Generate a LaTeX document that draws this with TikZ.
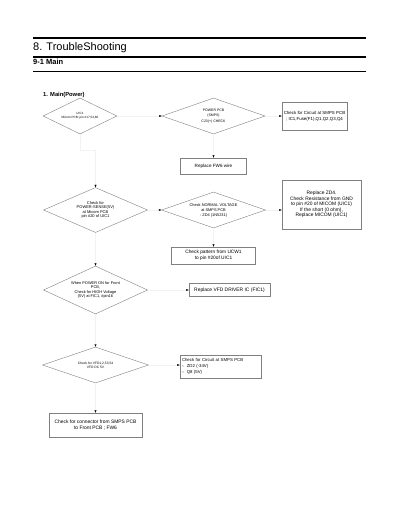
\documentclass[tikz,border=0pt]{standalone}
\usepackage{fontspec}
\setmainfont{Liberation Sans}
\usetikzlibrary{shapes,arrows.meta,calc}
\newcommand{\fsz}[2]{\fontsize{#1}{#2}\selectfont}
\tikzstyle{line} = [draw=black!5, line width=0.2pt, -{Latex[length=2.4pt,width=2pt,color=black]}]
\tikzstyle{block} = [draw=black!50, rectangle, align=center, line width=0.5pt, inner sep=1pt]
\tikzstyle{decision} = [draw=black!50, diamond, align=center, line width=0.4pt, inner sep=0pt]

\begin{document}
\begin{tikzpicture}[x=1pt, y=-1pt, node distance=40pt]
        \useasboundingbox (0,0) rectangle (400,518);
        % page header
        \draw[line width=2.4pt] (33,38) -- (366,38);
        \node[anchor=base west, inner sep=0pt, font=\fsz{11}{13}] (title) at (33,50.5) {8. TroubleShooting};
        \draw[line width=1.2pt] (33,57) -- (366,57);
        \node[anchor=base west, inner sep=0pt, font=\fsz{7.5}{9}\bfseries] (sec) at (33,65) {9-1 Main};
        \draw[line width=0.6pt] (33,71) -- (366,71);
        \node[anchor=base west, inner sep=0pt, font=\fsz{5.8}{7}\bfseries] (sub) at (43,97) {1. Main(Power)};
        % flow chart
        \node[decision, minimum width=74pt, minimum height=36pt, aspect=2.05, font=\fsz{3.1}{4.4}] (uic) at (80,116) {UIC1\\Micom PCB; pin \#17,54,80};
        \node[decision, right of=uic, node distance=133.5pt, minimum width=103pt, minimum height=36pt, aspect=2.86, font=\fsz{3.5}{5.2}] (smps) {POWER PCB\\(SMPS)\\C23(+) CHECK};
        \node[block, right of=smps, node distance=101pt, minimum width=65pt, minimum height=28pt, font=\fsz{4.4}{5.8}] (circuit) {Check for Circuit at SMPS PCB\\; IC1,Fuse(F1),Q1,Q2,Q3,Q4};
        \node[block, below of=smps, node distance=50pt, minimum width=66pt, minimum height=16pt, font=\fsz{4.6}{5.6}] (fwsix) {Replace FW6 wire};
        \node[decision, below of=fwsix, node distance=44pt, minimum width=104pt, minimum height=36pt, aspect=2.9, font=\fsz{3.9}{5}] (normal) {Check NORMAL VOLTAGE\\at SMPS PCB\\: ZD4 (1N5231)};
        \node[block, right of=normal, node distance=108pt, yshift=5.5pt, minimum width=79pt, minimum height=49pt, font=\fsz{4.9}{5.4}] (zdfour) {Replace ZD4.\\Check Resistance from GND\\to pin \#20 of MICOM (UIC1)\\If the short (0 ohm),\\Replace MICOM (UIC1)};
        \node[block, below of=normal, node distance=45.5pt, minimum width=84pt, minimum height=17pt, font=\fsz{4.8}{5.7}] (pattern) {Check pattern from UCW1\\to pin \#20of UIC1};
        \node[decision, left of=normal, node distance=118pt, minimum width=104pt, minimum height=45pt, aspect=2.3, font=\fsz{4}{4.3}] (sense) {Check for\\POWER-SENSE(5V)\\at Micom PCB\\pin \#20 of UIC1};
        \node[decision, below of=sense, node distance=80pt, minimum width=104pt, minimum height=48pt, aspect=2.17, font=\fsz{3.9}{4.6}] (hv) {When POWER ON for Front\\PCB,\\Check for HIGH Voltage\\(5V) at FIC1, \#pin16};
        \node[block, right of=hv, node distance=134pt, minimum width=81pt, minimum height=13pt, font=\fsz{4.9}{5.8}] (vfd) {Replace VFD DRIVER IC (FIC1)};
        \node[decision, below of=hv, node distance=75pt, minimum width=106pt, minimum height=36pt, aspect=2.9, font=\fsz{3.3}{4.2}] (vfddc) {Check for VFD1,2,53,54\\VFD DC 5V};
        \node[block, right of=vfddc, node distance=125pt, yshift=-1.5pt, text width=77pt, align=left, inner sep=2pt, minimum height=23pt, font=\fsz{4.3}{5.7}] (circuittwo) {Check for Circuit at SMPS PCB\\-. ZD2 (-34V)\\-. Q8 (5V)};
        \node[block, below of=vfddc, node distance=60pt, minimum width=93pt, minimum height=24pt, font=\fsz{4.9}{5.7}] (connector) {Check for connector from SMPS PCB\\to Front PCB ; FW6};
        \path[line] (uic) -- (smps);
        \path[line] (smps) -- (circuit);
        \path[line] (smps) -- (fwsix);
        \path[line] (uic.south) -- ++(0,16) -| (sense.north);
        \path[line] (sense) -- (normal);
        \path[line] (normal.east) -- (normal.east -| zdfour.west);
        \path[line] (normal) -- (pattern);
        \path[line] (sense) -- (hv);
        \path[line] (hv) -- (vfd);
        \path[line] (hv) -- (vfddc);
        \path[line] (vfddc.east) -- (vfddc.east -| circuittwo.west);
        \path[line] (vfddc) -- (connector);
    \end{tikzpicture}
\end{document}
